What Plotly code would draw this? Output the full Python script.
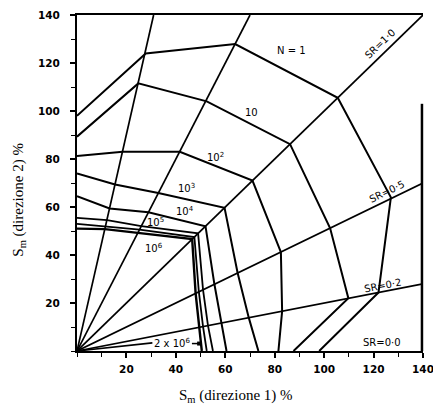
import plotly.graph_objects as go

# ---- data ----
# radial stress-ratio lines from the origin (end points on the frame)
radial_end_x = [31, 70, 140, 140, 140]
radial_end_y = [140, 140, 140, 70, 28]

# constant-life contours (vertices on the radial lines, from S2 axis to S1 axis)
n1_x = [0, 27.8, 64.0, 105.5, 127.0, 122.0, 98.0]
n1_y = [98, 124.0, 127.9, 105.5, 64.0, 24.4, 0]

n10_x = [0, 24.8, 52.5, 86.2, 102.4, 109.8, 87.6]
n10_y = [89.3, 111.5, 104.0, 86.2, 51.2, 22.0, 0]

n1e2_x = [0, 18.5, 41.6, 71.0, 82.5, 83.0, 81.5]
n1e2_y = [81.3, 83.0, 83.0, 71.0, 41.2, 16.6, 0]

n1e3_x = [0, 15.4, 32.9, 59.7, 65.0, 69.5, 73.4]
n1e3_y = [74.0, 69.4, 65.8, 59.7, 32.5, 13.9, 0]

n1e4_x = [0, 13.2, 28.9, 52.0, 55.6, 58.5, 60.5]
n1e4_y = [64.5, 59.4, 57.8, 52.0, 27.8, 11.7, 0]

n1e5_x = [0, 12.2, 26.0, 49.0, 51.0, 53.0, 55.0]
n1e5_y = [55.5, 54.5, 52.0, 49.0, 25.5, 10.6, 0]

n1e6_x = [0, 11.6, 25.3, 47.5, 49.3, 51.0, 52.5]
n1e6_y = [53.0, 52.0, 50.6, 47.5, 24.7, 10.2, 0]

n2e6_x = [0, 11.3, 24.6, 46.6, 48.0, 49.3, 50.5]
n2e6_y = [51.0, 50.8, 49.2, 46.6, 24.0, 9.9, 0]

leader_x = [0, 30.5]
leader_y = [0, 3.4]
arrow_x = [46.5, 50.3]
arrow_y = [3.1, 3.1]
right_frame_top = 103

sr_labels = ["SR=1·0", "SR=0·5", "SR=0·2", "SR=0·0"]
cycle_labels = ["N = 1", "10", "10<sup>2</sup>", "10<sup>3</sup>", "10<sup>4</sup>",
                "10<sup>5</sup>", "10<sup>6</sup>", "2 x 10<sup>6</sup>"]
tick_vals = [20, 40, 60, 80, 100, 120, 140]
tick_text = ["20", "40", "60", "80", "100", "120", "140"]
x_title = "S<sub>m</sub> (direzione 1) %"
y_title = "S<sub>m</sub> (direzione 2) %"

fig = go.Figure()

for ex, ey in zip(radial_end_x, radial_end_y):
    fig.add_trace(go.Scatter(x=[0, ex], y=[0, ey], mode="lines",
                             line=dict(color="black", width=1.7), hoverinfo="skip"))

contours = [(n1_x, n1_y, 2.0), (n10_x, n10_y, 2.0), (n1e2_x, n1e2_y, 2.0),
            (n1e3_x, n1e3_y, 2.0), (n1e4_x, n1e4_y, 2.0), (n1e5_x, n1e5_y, 1.8),
            (n1e6_x, n1e6_y, 1.8), (n2e6_x, n2e6_y, 2.4)]
for cx, cy, w in contours:
    fig.add_trace(go.Scatter(x=cx, y=cy, mode="lines",
                             line=dict(color="black", width=w), hoverinfo="skip"))

fig.add_trace(go.Scatter(x=leader_x, y=leader_y, mode="lines",
                         line=dict(color="black", width=1.6), hoverinfo="skip"))
fig.add_trace(go.Scatter(x=arrow_x, y=arrow_y, mode="lines",
                         line=dict(color="black", width=1.5), hoverinfo="skip"))
fig.add_trace(go.Scatter(x=[48.6, 50.3], y=[3.1, 3.1], mode="lines",
                         line=dict(color="black", width=4), hoverinfo="skip"))

lab_font = dict(family="DejaVu Sans", size=10, color="black")
ann = []
label_pos = [(86.6, 125.4), (70.7, 99.3), (55.9, 81.0), (44.4, 67.8),
             (43.7, 58.3), (31.7, 53.6), (31.0, 42.8), (38.3, 3.3)]
for (px, py), txt in zip(label_pos, cycle_labels):
    ann.append(dict(x=px, y=py, xref="x", yref="y", text=txt, showarrow=False,
                    font=lab_font, xanchor="center", yanchor="middle"))

sr_pos = [(122.7, 128.2, -44), (125.4, 66.6, -26), (123.8, 27.4, -11), (123.4, 3.6, 0)]
for (px, py, ang), txt in zip(sr_pos, sr_labels):
    ann.append(dict(x=px, y=py, xref="x", yref="y", text=txt, showarrow=False,
                    font=lab_font, textangle=ang, xanchor="center", yanchor="middle"))

title_font = dict(family="Liberation Serif", size=15, color="black")
ann.append(dict(x=0.46, y=-0.135, xref="paper", yref="paper", text=x_title,
                showarrow=False, font=title_font, xanchor="center", yanchor="middle"))
ann.append(dict(x=-0.168, y=0.45, xref="paper", yref="paper", text=y_title,
                showarrow=False, font=title_font, textangle=-90,
                xanchor="center", yanchor="middle"))

tick_font = dict(family="DejaVu Sans", size=10.5, color="black", weight="bold")

fig.update_layout(
    width=433, height=412,
    margin=dict(l=77, r=10, t=15, b=61, autoexpand=False),
    paper_bgcolor="white", plot_bgcolor="white",
    showlegend=False,
    annotations=ann,
    shapes=[dict(type="line", xref="paper", yref="paper", x0=0.997, x1=0.997,
                 y0=0, y1=right_frame_top / 140, layer="above",
                 line=dict(color="black", width=2.5))],
    xaxis=dict(range=[0, 140], tickvals=tick_vals, ticktext=tick_text,
               ticks="outside", ticklen=5, tickwidth=1.5, tickcolor="black",
               minor=dict(dtick=10, ticks="outside", ticklen=4, tickwidth=1.2, tickcolor="black"),
               showgrid=False, zeroline=False, showline=True, linecolor="black",
               linewidth=2.4, mirror=True, tickfont=tick_font, ticklabelstandoff=2,
               ticklabeloverflow="allow", automargin=False),
    yaxis=dict(range=[0, 140], tickvals=tick_vals, ticktext=tick_text,
               ticks="outside", ticklen=5, tickwidth=1.5, tickcolor="black",
               minor=dict(dtick=10, ticks="outside", ticklen=4, tickwidth=1.2, tickcolor="black"),
               showgrid=False, zeroline=False, showline=True, linecolor="black",
               linewidth=2.2, mirror=False, tickfont=tick_font, ticklabelstandoff=8,
               ticklabeloverflow="allow", automargin=False),
)

fig.write_html("out.html", config={"displayModeBar": False},
               post_script="document.body.style.margin='0';document.body.style.overflow='hidden';")
